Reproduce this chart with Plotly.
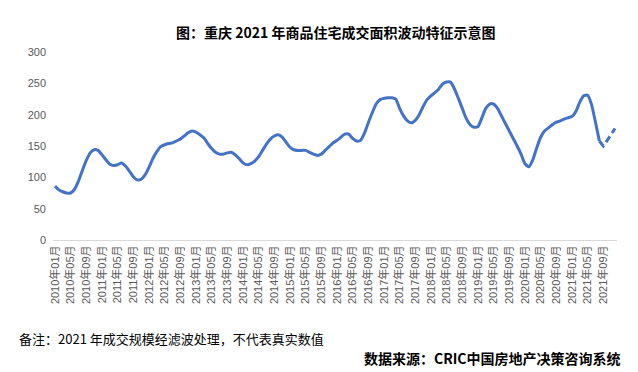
import plotly.graph_objects as go

months = [f"{y}年{m:02d}月" for y in range(2010, 2022) for m in range(1, 13)]

values = [86, 80, 77, 75, 75, 81, 94, 111, 127, 139, 144, 143,
          136, 128, 121, 119, 120, 123, 118, 110, 101, 96, 97, 104,
          116, 130, 141, 149, 152, 154, 155, 158, 161, 166, 171, 174,
          172, 168, 163, 154, 146, 140, 137, 137, 139, 140, 136, 130,
          123, 120, 122, 126, 133, 143, 153, 161, 166, 168, 164, 156,
          148, 144, 143, 143, 143, 140, 137, 135, 137, 143, 149, 155,
          159, 164, 169, 169, 162, 158, 159, 170, 187, 203, 217, 224,
          226, 227, 227, 225, 210, 198, 190, 187, 191, 200, 213, 224,
          230, 235, 241, 249, 252, 252, 241, 226, 210, 194, 184, 180,
          181, 195, 210, 217, 217, 210, 198, 186, 174, 162, 150, 137,
          122, 117, 128, 147, 164, 174, 179, 184, 188, 190, 193, 195,
          197, 205, 220, 230, 231, 216, 188, 158]

filtered_values = [158, 150, 159, 169, 178]
filtered_months = months[139:144]

tick_labels = months[::4]

title_text = "图：重庆 2021 年商品住宅成交面积波动特征示意图"
note_text = "备注：2021 年成交规模经滤波处理，不代表真实数值"
source_text = "数据来源：CRIC中国房地产决策咨询系统"

line_color = "#4472C4"

fig = go.Figure()
fig.add_trace(go.Scatter(
    x=months[:len(values)], y=values, mode="lines",
    line=dict(color=line_color, width=3, shape="spline", smoothing=0.6),
    showlegend=False, hoverinfo="x+y"))
fig.add_trace(go.Scatter(
    x=filtered_months, y=filtered_values, mode="lines",
    line=dict(color=line_color, width=3, dash="7px,4px"),
    showlegend=False, hoverinfo="x+y"))

fig.update_layout(
    width=638, height=372,
    margin=dict(l=53, r=21, t=52, b=132),
    paper_bgcolor="white", plot_bgcolor="white",
    font=dict(family="Liberation Sans, Noto Sans CJK SC, sans-serif", color="#595959"),
    xaxis=dict(
        type="category", categoryorder="array", categoryarray=months,
        tickmode="array", tickvals=tick_labels, ticktext=tick_labels,
        tickangle=-90, tickfont=dict(size=11, color="#595959"),
        showgrid=False, showline=True, linecolor="#D9D9D9", linewidth=1,
        ticks="", zeroline=False, range=[-0.5, 143.5], automargin=False),
    yaxis=dict(
        range=[0, 300], tickmode="array", tickvals=[0, 50, 100, 150, 200, 250, 300],
        tickfont=dict(size=11, color="#595959"),
        showgrid=False, showline=False, zeroline=False, ticks="",
        ticklabelstandoff=6, automargin=False),
    annotations=[
        dict(text=f"<b>{title_text}</b>", xref="paper", yref="paper",
             x=(335 - 53) / 564, y=1 + (52 - 32) / 188, xanchor="center", yanchor="middle",
             showarrow=False, font=dict(family="Noto Sans CJK SC", size=14, color="black")),
        dict(text=note_text, xref="paper", yref="paper",
             x=(17 - 53) / 564, y=-(338.5 - 240) / 188, xanchor="left", yanchor="middle",
             showarrow=False, font=dict(family="Noto Sans CJK SC", size=13, color="black")),
        dict(text=f"<b>{source_text}</b>", xref="paper", yref="paper",
             x=(623 - 53) / 564, y=-(358 - 240) / 188, xanchor="right", yanchor="middle",
             showarrow=False, font=dict(family="Noto Sans CJK SC", size=14, color="black")),
    ],
)

fig.write_html("out.html", config={"displayModeBar": False},
               post_script="document.body.style.margin='0';document.body.style.padding='0';")
